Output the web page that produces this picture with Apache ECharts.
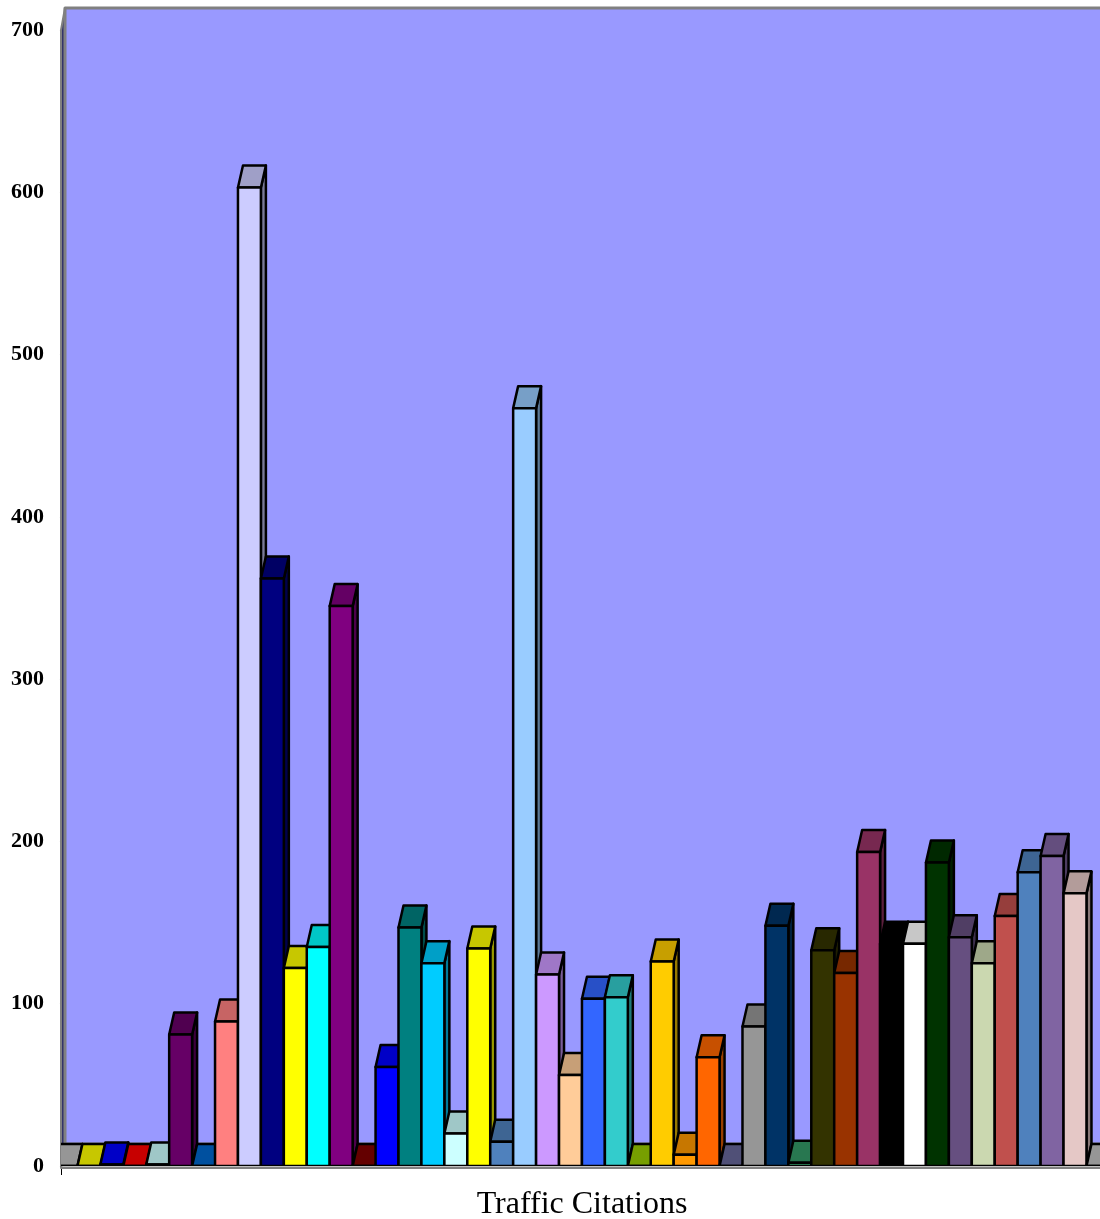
<!DOCTYPE html>
<html><head><meta charset="utf-8">
<style>html,body{margin:0;padding:0;background:#fff}#c{width:1100px;height:1219px}#c canvas{filter:blur(0.5px)}</style>
<script src="https://cdn.jsdelivr.net/npm/echarts@6/dist/echarts.min.js"></script>
</head><body><div id="c"></div>
<script>
const values = [0,0,1,0,1,81,0,89,603,362,122,135,345,0,61,147,125,20,134,15,467,118,56,103,104,0,126,7,67,0,86,148,2,133,119,193.5,137,137,187,141,125,154,181,191,168,0];
const colors = ['#C0C0C0','#FFFF00','#0000FF','#FF0000','#CCFFFF','#660066','#0066CC','#FF8080','#CCCCFF','#000080','#FFFF00','#00FFFF','#800080','#800000','#0000FF','#008080','#00CCFF','#CCFFFF','#FFFF00','#4F81BD','#99CCFF','#CC99FF','#FFCC99','#3366FF','#33CCCC','#99CC00','#FFCC00','#FF9900','#FF6600','#666699','#969696','#003366','#339966','#333300','#993300','#993366','#000000','#FFFFFF','#003300','#664F80','#CBD8B0','#C0504D','#4F81BD','#8064A2','#E5C8C6','#C0C0C0'];
const yTicks = [0,100,200,300,400,500,600,700];
const xTitle = 'Traffic Citations';
const DX = 5, DY = 22;
const xMin = -0.217, xMax = 45.09;
function shade(hex, k){
  const n = parseInt(hex.slice(1),16);
  const f = v => Math.round(v*k);
  return `rgb(${f(n>>16&255)},${f(n>>8&255)},${f(n&255)})`;
}
function poly(points, fill, stroke, w){
  return {type:'polygon', shape:{points}, style:{fill, stroke, lineWidth:w, lineJoin:'round'}};
}
function renderBar(params, api){
  const i = api.value(0), v = api.value(1);
  const c = colors[i];
  const w = api.size([1,0])[0];
  const base = api.coord([i,0]), top = api.coord([i,v]);
  const l = base[0]-w/2, r = base[0]+w/2, y0 = base[1], y1 = top[1];
  const kids = [
    poly([[r,y1],[r+DX,y1-DY],[r+DX,y0-DY],[r,y0]], shade(c,0.6), '#000', 2.5),
    poly([[l,y1],[r,y1],[r+DX,y1-DY],[l+DX,y1-DY]], shade(c,0.78), '#000', 2.5),
    poly([[l,y1],[r,y1],[r,y0],[l,y0]], c, '#000', 2.5)
  ];
  return {type:'group', children:kids};
}
function renderWall(params, api){
  const o = api.coord([xMin,0]), t = api.coord([xMin,700]), e = api.coord([xMax,0]);
  const x0 = o[0], x1 = x0+DX-1, xe = e[0]+20;
  const yb = o[1], yt = t[1];
  return {type:'group', children:[
    poly([[x0,yb+2],[x1,yb-DY],[xe,yb-DY],[xe,yb+2]], '#C0C0C0', '#808080', 2),
    poly([[x0,yb],[x0,yt],[x1,yt-DY],[x1,yb-DY]], '#33336B', '#808080', 2),
    poly([[x1,yt-DY],[xe,yt-DY],[xe,yb-DY],[x1,yb-DY]], '#9999FF', '#808080', 3)
  ]};
}
const chart = echarts.init(document.getElementById('c'), null, {renderer:'canvas'});
chart.setOption({
  animation:false,
  backgroundColor:'#fff',
  grid:{left:61,right:0,top:30,bottom:53,outerBoundsMode:'none'},
  xAxis:{type:'value',min:xMin,max:xMax,splitLine:{show:false},
    axisLine:{show:true,onZero:false,lineStyle:{color:'#000',width:1}},
    axisTick:{show:true,length:9,customValues:[xMin],lineStyle:{color:'#000'}},
    axisLabel:{show:false},
    name:xTitle,nameLocation:'middle',nameGap:23,
    nameTextStyle:{fontFamily:'Liberation Serif',fontSize:32,color:'#000',padding:[0,0,0,3]}},
  yAxis:{type:'value',min:yTicks[0],max:yTicks[yTicks.length-1],interval:100,splitLine:{show:false},
    axisLine:{show:true,lineStyle:{color:'#000',width:1}},
    axisTick:{show:true,length:6,lineStyle:{color:'#000'}},
    axisLabel:{margin:17,padding:[3,0,0,0],fontFamily:'Liberation Serif',fontWeight:'bold',fontSize:22,color:'#000'}},
  series:[
    {type:'custom',coordinateSystem:'cartesian2d',clip:false,z:1,silent:true,data:[[0,0]],renderItem:renderWall},
    {type:'custom',coordinateSystem:'cartesian2d',clip:true,z:2,silent:true,
     data:values.map((v,i)=>[i,v]),encode:{x:0,y:1},renderItem:renderBar}
  ]
});
</script></body></html>
